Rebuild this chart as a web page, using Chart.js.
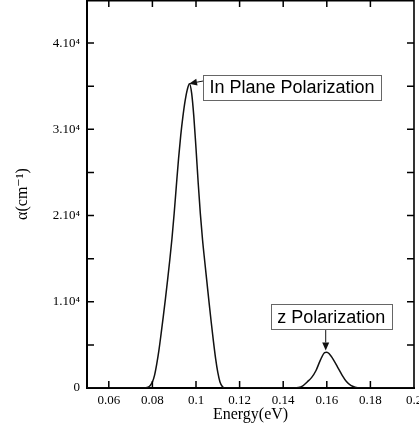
<!DOCTYPE html>
<html>
<head>
<meta charset="utf-8">
<script src="https://cdn.jsdelivr.net/npm/chart.js@4/dist/chart.umd.min.js"></script>
<style>
  body { margin: 0; background: #fff; }
  #wrap { width: 419px; height: 430px; }
</style>
</head>
<body>
<div id="wrap"><canvas id="absChart" width="419" height="430"></canvas></div>
<script>
(function absorption () {
    'use strict';

    // in plane polarization peak
    var energyInPlane = [0.05, 0.07, 0.076, 0.078, 0.079, 0.080, 0.081, 0.082, 0.083, 0.084,
        0.085, 0.086, 0.087, 0.088, 0.089, 0.090, 0.091, 0.092, 0.093, 0.094,
        0.095, 0.096, 0.097, 0.098, 0.099, 0.100, 0.101, 0.102, 0.103, 0.104,
        0.105, 0.106, 0.107, 0.108, 0.109, 0.110, 0.111, 0.112, 0.113, 0.13];
    var alphaInPlane = [0, 0, 0, 100, 300, 700, 1500, 2800, 4400, 6300,
        8300, 10400, 12600, 14900, 17400, 20300, 23500, 26600, 29300, 31500,
        33300, 34600, 35300, 34200, 31500, 27800, 23800, 20200, 17200, 14700,
        12300, 9900, 7600, 5400, 3400, 1800, 700, 200, 0, 0];

    // z polarization peak
    var energyZ = [0.13, 0.145, 0.147, 0.149, 0.151, 0.153, 0.155, 0.157, 0.159, 0.160,
        0.161, 0.163, 0.165, 0.167, 0.169, 0.171, 0.173, 0.175, 0.2];
    var alphaZ = [0, 0, 50, 250, 700, 1200, 2000, 3200, 4100, 4150,
        4000, 3300, 2400, 1500, 750, 300, 90, 0, 0];

    var xTicks = [0.06, 0.08, 0.1, 0.12, 0.14, 0.16, 0.18, 0.2];
    var xTickLabels = ['0.06', '0.08', '0.1', '0.12', '0.14', '0.16', '0.18', '0.2'];
    var yTicks = [0, 5000, 10000, 15000, 20000, 25000, 30000, 35000, 40000];
    var yTickLabels = ['0', '', '1.10\u2074', '', '2.10\u2074', '', '3.10\u2074', '', '4.10\u2074'];

    var notes = [
        { text: 'In Plane Polarization', tipX: 0.0968, tipY: 35300, tailX: 0.1032, tailY: 35600,
          boxX: 0.1032, boxY: 34880, align: 'left' },
        { text: 'z Polarization', tipX: 0.1595, tipY: 4350, tailX: 0.1595, tailY: 6720,
          boxX: 0.1620, boxY: 8285, align: 'center' }
    ];

    function toPoints(xs, ys) {
        return xs.map(function (v, i) { return { x: v, y: ys[i] }; });
    }

    var serif = "'Liberation Serif', 'DejaVu Serif', serif";

    var frameTicks = {
        id: 'frameTicks',
        afterDatasetsDraw: function (chart) {
            var ctx = chart.ctx;
            var a = chart.chartArea;
            var x = chart.scales.x;
            var y = chart.scales.y;
            ctx.save();
            ctx.strokeStyle = '#000';
            ctx.lineWidth = 1.6;
            ctx.beginPath();
            ctx.moveTo(a.left, a.top + 0.8);
            ctx.lineTo(a.right, a.top + 0.8);
            ctx.lineTo(a.right, a.bottom);
            ctx.stroke();
            ctx.lineWidth = 1.5;
            ctx.beginPath();
            xTicks.forEach(function (v) {
                var px = x.getPixelForValue(v);
                if (px >= a.right - 1) { return; }
                ctx.moveTo(px, a.bottom);
                ctx.lineTo(px, a.bottom - 7);
                ctx.moveTo(px, a.top);
                ctx.lineTo(px, a.top + 7);
            });
            yTicks.forEach(function (v) {
                if (v === 0) { return; }
                var py = y.getPixelForValue(v);
                ctx.moveTo(a.left, py);
                ctx.lineTo(a.left + 7, py);
                ctx.moveTo(a.right, py);
                ctx.lineTo(a.right - 7, py);
            });
            ctx.stroke();
            ctx.restore();
        }
    };

    var callouts = {
        id: 'callouts',
        afterDatasetsDraw: function (chart) {
            var ctx = chart.ctx;
            var x = chart.scales.x;
            var y = chart.scales.y;
            ctx.save();
            ctx.font = "18px 'Liberation Sans', Arial, sans-serif";
            ctx.textBaseline = 'middle';
            notes.forEach(function (n) {
                var tx = x.getPixelForValue(n.tipX), ty = y.getPixelForValue(n.tipY);
                var sx = x.getPixelForValue(n.tailX), sy = y.getPixelForValue(n.tailY);
                var bx = x.getPixelForValue(n.boxX), by = y.getPixelForValue(n.boxY);
                var w = ctx.measureText(n.text).width + 13;
                var h = 25;
                var left = n.align === 'left' ? bx : bx - w / 2;

                ctx.strokeStyle = '#666';
                ctx.lineWidth = 1;
                ctx.strokeRect(Math.round(left) + 0.5, Math.round(by - h / 2) + 0.5, Math.round(w), h);
                ctx.fillStyle = '#000';
                ctx.textAlign = 'center';
                ctx.fillText(n.text, left + w / 2, by + 1);

                // arrow
                var ang = Math.atan2(ty - sy, tx - sx);
                var len = 8, half = 3.5;
                var bxh = tx - Math.cos(ang) * len, byh = ty - Math.sin(ang) * len;
                ctx.strokeStyle = '#111';
                ctx.lineWidth = 1;
                ctx.beginPath();
                ctx.moveTo(sx, sy);
                ctx.lineTo(bxh, byh);
                ctx.stroke();
                ctx.fillStyle = '#111';
                ctx.beginPath();
                ctx.moveTo(tx, ty);
                ctx.lineTo(bxh - Math.sin(ang) * half, byh + Math.cos(ang) * half);
                ctx.lineTo(bxh + Math.sin(ang) * half, byh - Math.cos(ang) * half);
                ctx.closePath();
                ctx.fill();
            });
            ctx.restore();
        }
    };

    var lineStyle = {
        showLine: true,
        borderColor: '#111',
        borderWidth: 1.5,
        pointRadius: 0,
        cubicInterpolationMode: 'monotone',
        fill: false
    };

    var ctx = document.getElementById('absChart').getContext('2d');

    new Chart(ctx, {
        type: 'scatter',
        data: {
            datasets: [
                Object.assign({ label: 'In Plane Polarization', data: toPoints(energyInPlane, alphaInPlane) }, lineStyle),
                Object.assign({ label: 'z Polarization', data: toPoints(energyZ, alphaZ) }, lineStyle)
            ]
        },
        options: {
            responsive: false,
            animation: false,
            layout: { padding: { left: 0, right: 5, top: 0, bottom: 0 } },
            plugins: {
                legend: { display: false },
                tooltip: { enabled: false }
            },
            scales: {
                x: {
                    type: 'linear',
                    min: 0.05,
                    max: 0.2,
                    afterBuildTicks: function (scale) {
                        scale.ticks = xTicks.map(function (v) { return { value: v }; });
                    },
                    afterFit: function (scale) {
                        scale.height = 42;
                        scale.paddingLeft = 0;
                        scale.paddingRight = 0;
                    },
                    grid: { display: false, drawTicks: false },
                    border: { display: true, color: '#000', width: 2 },
                    ticks: {
                        color: '#000',
                        padding: 5,
                        maxRotation: 0,
                        autoSkip: false,
                        font: { family: serif, size: 13 },
                        callback: function (v, i) { return xTickLabels[i]; }
                    },
                    title: {
                        display: true,
                        text: 'Energy(eV)',
                        color: '#000',
                        padding: { top: 0, bottom: 6 },
                        font: { family: serif, size: 16 }
                    }
                },
                y: {
                    type: 'linear',
                    min: 0,
                    max: 45000,
                    afterBuildTicks: function (scale) {
                        scale.ticks = yTicks.map(function (v) { return { value: v }; });
                    },
                    afterFit: function (scale) {
                        scale.width = 87;
                        scale.paddingTop = 0;
                        scale.paddingBottom = 0;
                    },
                    grid: { display: false, drawTicks: false },
                    border: { display: true, color: '#000', width: 2 },
                    ticks: {
                        color: '#000',
                        padding: 7,
                        autoSkip: false,
                        font: { family: serif, size: 13 },
                        callback: function (v, i) { return yTickLabels[i]; }
                    },
                    title: {
                        display: true,
                        text: '\u03b1(cm\u207b\u00b9)',
                        color: '#000',
                        padding: { top: 13, bottom: 0 },
                        font: { family: serif, size: 16 }
                    }
                }
            }
        },
        plugins: [frameTicks, callouts]
    });
}());
</script>
</body>
</html>
